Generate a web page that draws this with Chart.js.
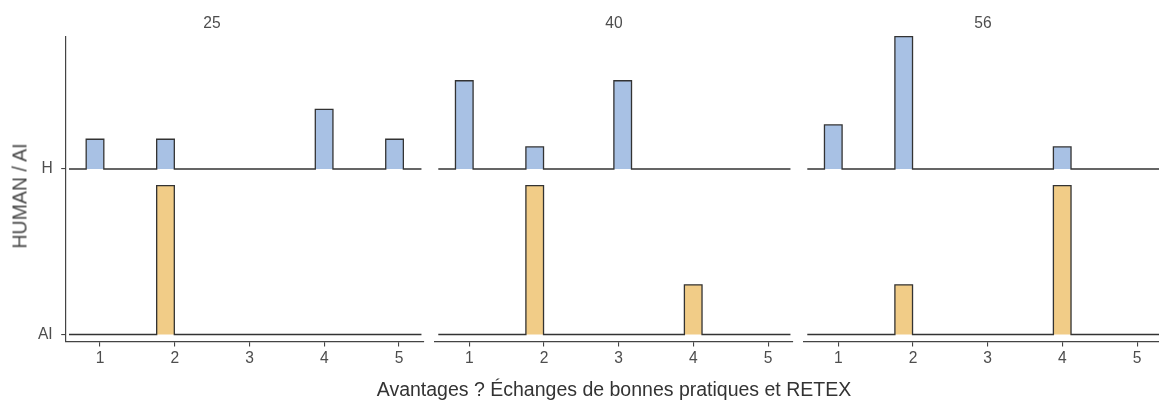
<!DOCTYPE html>
<html>
<head>
<meta charset="utf-8">
<script src="https://cdn.jsdelivr.net/npm/chart.js@4.4.1/dist/chart.umd.min.js"></script>
<style>
  html, body { margin: 0; padding: 0; background: #fff; overflow: hidden; width: 1159px; height: 403px; }
  #wrap { position: relative; width: 1159px; height: 403px; overflow: hidden; }
  canvas { position: absolute; top: 0; }
  .ttl { position: absolute; font-family: "Liberation Sans", Arial, sans-serif; font-size: 19.5px; font-weight: normal; color: #333; white-space: nowrap; transform: translate(-50%, -50%); }
  #ytitle { left: 19.7px; top: 196px; color: #474747; transform: translate(-50%, -50%) rotate(-90deg); }
  #xtitle { left: 614px; top: 389px; }
</style>
</head>
<body>
<div id="wrap">
  <canvas id="p25" width="430" height="403" style="left:0px"></canvas>
  <canvas id="p40" width="370" height="403" style="left:429px"></canvas>
  <canvas id="p56" width="370" height="403" style="left:798px"></canvas>
  <div class="ttl" id="ytitle">HUMAN / AI</div>
  <div class="ttl" id="xtitle">Avantages ? Échanges de bonnes pratiques et RETEX</div>
</div>
<script>
// facets and answer values
var facets = ['25', '40', '56'];
var answers = [1, 2, 3, 4, 5];
var xTicks = [1, 2, 3, 4, 5];
var yLabels = ['AI', 'H'];

// number of answers per value (1..5), per facet
var h25 = [1, 1, 0, 2, 1];
var ai25 = [0, 4, 0, 0, 0];
var h40 = [4, 1, 4, 0, 0];
var ai40 = [0, 3, 0, 1, 0];
var h56 = [2, 6, 0, 1, 0];
var ai56 = [0, 1, 0, 3, 0];

// histogram bins (left edge of the bin holding each answer value)
var binLeft = [0.815, 1.758, 2.936, 3.88, 4.822];
var binWidth = 0.236;
var lineFrom = 0.585, lineTo = 5.30;

var FONT = '"Liberation Sans", Arial, sans-serif';
var colH = '#A8C1E4';
var colAI = '#F1CC87';

function sum(a) { return a.reduce(function (s, v) { return s + v; }, 0); }

// ridgeline outline: flat baseline with a step for every non-empty bin
function outline(counts, base, k) {
    var total = sum(counts);
    var pts = [{x: lineFrom, y: base}];
    answers.forEach(function (v, i) {
        if (!counts[i]) return;
        var h = counts[i] / total * k;
        var l = binLeft[i], r = binLeft[i] + binWidth;
        pts.push({x: l, y: base}, {x: l, y: base + h}, {x: r, y: base + h}, {x: r, y: base});
    });
    pts.push({x: lineTo, y: base});
    return pts;
}

function makePanel(id, label, hc, ac, first) {
    var maxProp = Math.max(Math.max.apply(null, hc) / sum(hc), Math.max.apply(null, ac) / sum(ac));
    var k = 0.9 / maxProp;
    new Chart(document.getElementById(id), {
        type: 'line',
        data: {
            datasets: [
                {label: 'H', data: outline(hc, 1, k), backgroundColor: colH, fill: {value: 1}, clip: 6},
                {label: 'AI', data: outline(ac, 0, k), backgroundColor: colAI, fill: {value: 0}, clip: 6}
            ]
        },
        options: {
            responsive: false,
            animation: false,
            devicePixelRatio: 1,
            layout: {padding: {left: first ? 0 : 6, right: 6, top: 0, bottom: 0}},
            elements: {
                point: {radius: 0},
                line: {borderColor: '#333', borderWidth: 1.3, tension: 0, borderJoinStyle: 'miter'}
            },
            plugins: {
                legend: {display: false},
                tooltip: {enabled: false},
                title: {
                    display: true, text: label, color: '#4d4d4d',
                    font: {family: FONT, size: 15.6, weight: 'normal'},
                    padding: {top: 14.6, bottom: 3.7}
                }
            },
            scales: {
                x: {
                    type: 'linear', min: 0.541, max: 5.334,
                    afterBuildTicks: function (s) { s.ticks = xTicks.map(function (v) { return {value: v}; }); },
                    afterFit: function (s) { s.height = 61; },
                    grid: {drawOnChartArea: false, tickLength: 4.5, color: '#444', lineWidth: 1.1},
                    border: {color: '#444', width: 1.2},
                    ticks: {color: '#4d4d4d', font: {family: FONT, size: 15.6}, padding: 3, maxRotation: 0}
                },
                y: {
                    type: 'linear', display: first, min: -0.0453, max: 1.7976,
                    afterBuildTicks: function (s) { s.ticks = [{value: 0}, {value: 1}]; },
                    afterFit: function (s) { s.width = first ? 65.7 : 0; },
                    grid: {drawOnChartArea: false, tickLength: 4.5, color: '#444', lineWidth: 1.1},
                    border: {color: '#444', width: 1.2},
                    ticks: {
                        color: '#4d4d4d', font: {family: FONT, size: 15.6}, padding: 8.5,
                        callback: function (v) { return yLabels[v]; }
                    }
                }
            }
        }
    });
}

makePanel('p25', facets[0], h25, ai25, true);
makePanel('p40', facets[1], h40, ai40, false);
makePanel('p56', facets[2], h56, ai56, false);
</script>
</body>
</html>
